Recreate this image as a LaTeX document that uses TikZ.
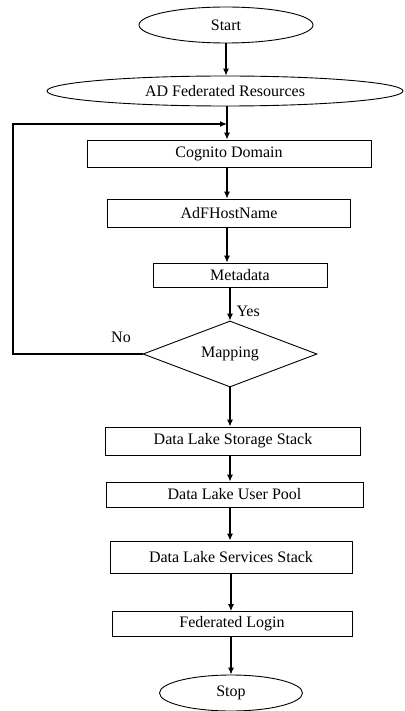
\documentclass[tikz,border=0pt]{standalone}
\usepackage{fontspec}
\setmainfont{Liberation Serif}
\usetikzlibrary{arrows.meta,positioning,shapes.geometric,calc}
\tikzset{
  box/.style={draw, line width=0.9pt, align=center, font=\fontsize{16}{18}\selectfont,
              inner sep=0pt, minimum height=26pt},
  term/.style={box, ellipse},
  dec/.style={box, diamond, aspect=2.6},
  flow/.style={-{Latex[length=7pt,width=6pt]}, line width=1.1pt},
  lbl/.style={font=\fontsize{16}{18}\selectfont},
}
\begin{document}
\begin{tikzpicture}[x=1pt, y=-1pt]
  \useasboundingbox (0,0) rectangle (404,711);
  \node[term, minimum width=174pt, minimum height=36pt] (start) at (226,25) {Start};
  \node[term, minimum width=356pt, minimum height=30pt] (adfed) at (225,91) {AD Federated Resources};
  \node[box, minimum width=284pt, minimum height=27pt] (cog) at (229,153.5) {Cognito Domain};
  \node[box, minimum width=243pt, minimum height=28pt] (adf) at (229,213) {AdFHostName};
  \node[box, minimum width=174pt, minimum height=24pt] (meta) at (240,275) {Metadata};
  \node[dec, minimum width=174pt, minimum height=66pt] (map) at (230,354) {Mapping};
  \node[box, minimum width=255pt, minimum height=28pt] (store) at (233,441) {Data Lake Storage Stack};
  \node[box, minimum width=257pt, minimum height=25pt] (pool) at (234.5,494.5) {Data Lake User Pool};
  \node[box, minimum width=242pt, minimum height=32pt] (serv) at (231,557) {Data Lake Services Stack};
  \node[box, minimum width=240pt, minimum height=25pt] (login) at (232,624) {Federated Login};
  \node[term, minimum width=143pt, minimum height=36pt] (stop) at (231,693) {Stop};
  \coordinate (jn) at (227,124);
  \coordinate (lp) at (13,124);
  % main chain
  \draw[flow] (start.south) -- (start.south |- adfed.north);
  \draw[flow] (jn |- adfed.south) -- (jn |- cog.north);
  \draw[flow] (jn |- cog.south) -- (jn |- adf.north);
  \draw[flow] (jn |- adf.south) -- (jn |- meta.north);
  \draw[flow] (map.north |- meta.south) -- (map.north);
  \draw[flow] (map.south) -- (map.south |- store.north);
  \draw[flow] (map.south |- store.south) -- (map.south |- pool.north);
  \draw[flow] (map.south |- pool.south) -- (map.south |- serv.north);
  \draw[flow] (stop.north |- serv.south) -- (stop.north |- login.north);
  \draw[flow] (stop.north |- login.south) -- (stop.north);
  % loop back
  \draw[flow] (map.west) -| (lp) -- (jn);
  \node[lbl, anchor=west] (yes) at (233,311) {Yes};
  \node[lbl] (no) at (121,337) {No};
\end{tikzpicture}
\end{document}
